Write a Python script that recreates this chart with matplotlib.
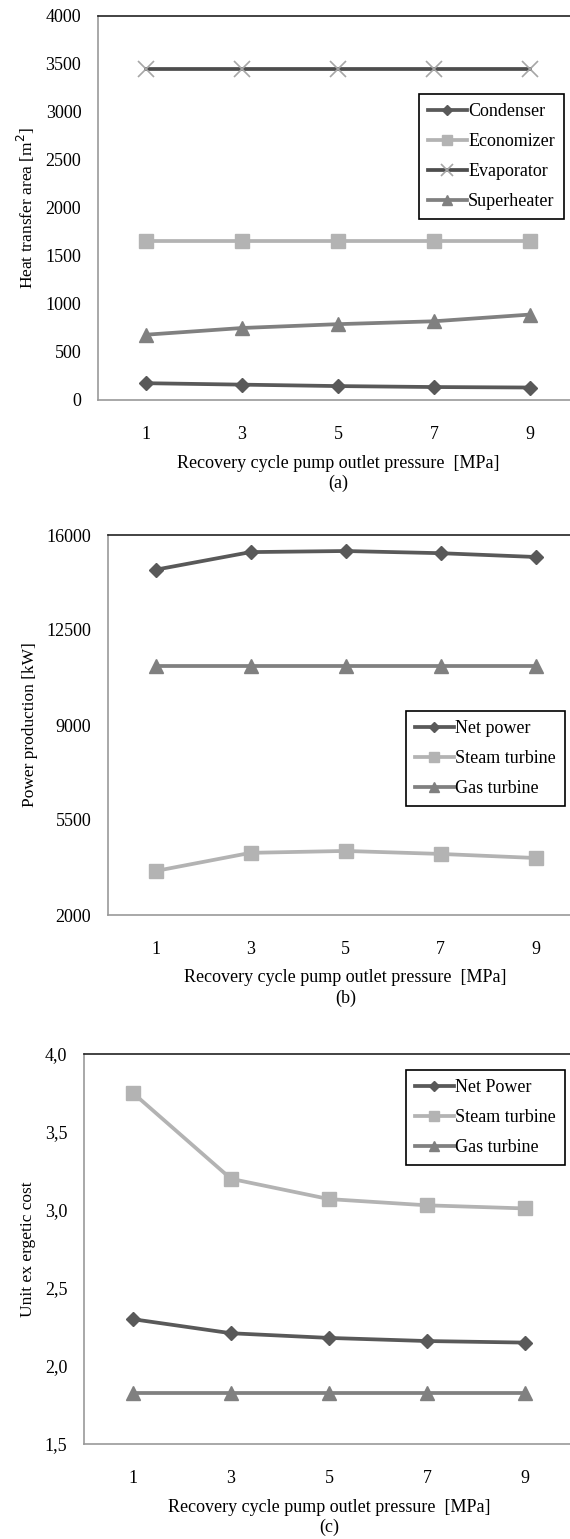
"""Three stacked panels: heat transfer area, power production and unit
exergetic cost against recovery cycle pump outlet pressure."""

import matplotlib
matplotlib.use("Agg")
import matplotlib.pyplot as plt

plt.rcParams["font.family"] = ["Liberation Serif", "DejaVu Serif"]

# pump outlet pressure [MPa]
pressure = [1, 3, 5, 7, 9]

# (a) heat transfer area [m2]
condenser = [175, 160, 145, 135, 130]
economizer = [1660, 1660, 1660, 1660, 1660]
evaporator = [3450, 3450, 3450, 3450, 3450]
superheater = [680, 750, 790, 820, 890]

# (b) power production [kW]
net_power = [14720, 15370, 15410, 15330, 15190]
steam_power = [3620, 4290, 4360, 4250, 4100]
gas_power = [11180, 11180, 11180, 11180, 11180]

# (c) unit exergetic cost
net_cost = [2.30, 2.21, 2.18, 2.16, 2.15]
steam_cost = [3.75, 3.20, 3.07, 3.03, 3.01]
gas_cost = [1.83, 1.83, 1.83, 1.83, 1.83]

DARK = "#595959"
LIGHT = "#b3b3b3"
MID = "#808080"

W, H = 570, 1539
fig = plt.figure(figsize=(W / 100, H / 100), dpi=100)


def px_axes(left, top, right, bottom):
    return fig.add_axes([left / W, 1 - bottom / H, (right - left) / W, (bottom - top) / H])


def style(ax, ylim, yticks, ylabels, ylabel, tag):
    ax.set_xlim(0, 10)
    ax.set_xticks(pressure)
    ax.set_xticklabels([str(p) for p in pressure])
    ax.set_ylim(*ylim)
    ax.set_yticks(yticks)
    ax.set_yticklabels(ylabels)
    ax.tick_params(axis="both", length=0, labelsize=13)
    ax.tick_params(axis="x", pad=19)
    ax.tick_params(axis="y", pad=12)
    ax.spines["right"].set_visible(False)
    ax.spines["top"].set_color("#222222")
    ax.spines["left"].set_color("#999999")
    ax.spines["bottom"].set_color("#999999")
    for s in ax.spines.values():
        s.set_linewidth(1.2)
    ax.set_xlabel("Recovery cycle pump outlet pressure  [MPa]\n" + tag, fontsize=13,
                  labelpad=8, linespacing=1.22)
    ax.set_ylabel(ylabel, fontsize=12.5, labelpad=6)


def legend(ax, right, top):
    leg = ax.legend(loc="upper right", bbox_to_anchor=(right / W, 1 - top / H),
                    bbox_transform=fig.transFigure, fontsize=13, frameon=True,
                    fancybox=False, edgecolor="black", framealpha=1,
                    handlelength=2.2, handletextpad=0.05, labelspacing=0.72,
                    borderpad=0.5, borderaxespad=0, markerscale=0.75)
    leg.get_frame().set_linewidth(1.2)


lw = 2.7

# ---- (a)
ax1 = px_axes(98, 16, 578, 400)
ax1.plot(pressure, condenser, color=DARK, lw=lw, marker="D", ms=7, label="Condenser")
ax1.plot(pressure, economizer, color=LIGHT, lw=lw, marker="s", ms=9.5, label="Economizer")
ax1.plot(pressure, evaporator, color="#4d4d4d", lw=lw, marker="x", ms=11, mew=1.2,
         mec="#a6a6a6", label="Evaporator")
ax1.plot(pressure, superheater, color=MID, lw=lw, marker="^", ms=9.5, label="Superheater")
style(ax1, (0, 4000), range(0, 4001, 500), [str(v) for v in range(0, 4001, 500)],
      "Heat transfer area [m$^2$]", "(a)")
legend(ax1, 564, 94)

# ---- (b)
ax2 = px_axes(108, 535, 583, 915)
ax2.plot(pressure, net_power, color=DARK, lw=lw, marker="D", ms=7, label="Net power")
ax2.plot(pressure, steam_power, color=LIGHT, lw=lw, marker="s", ms=9.5, label="Steam turbine")
ax2.plot(pressure, gas_power, color=MID, lw=lw, marker="^", ms=9.5, label="Gas turbine")
yb = [2000, 5500, 9000, 12500, 16000]
style(ax2, (2000, 16000), yb, [str(v) for v in yb], "Power production [kW]", "(b)")
legend(ax2, 565, 711)

# ---- (c)
ax3 = px_axes(84, 1054, 574, 1444)
ax3.plot(pressure, net_cost, color=DARK, lw=lw, marker="D", ms=7, label="Net Power")
ax3.plot(pressure, steam_cost, color=LIGHT, lw=lw, marker="s", ms=9.5, label="Steam turbine")
ax3.plot(pressure, gas_cost, color=MID, lw=lw, marker="^", ms=9.5, label="Gas turbine")
yc = [1.5, 2.0, 2.5, 3.0, 3.5, 4.0]
style(ax3, (1.5, 4.0), yc, [f"{v:.1f}".replace(".", ",") for v in yc],
      "Unit ex ergetic cost", "(c)")
legend(ax3, 565, 1070)

fig.savefig("out.png", dpi=100)
